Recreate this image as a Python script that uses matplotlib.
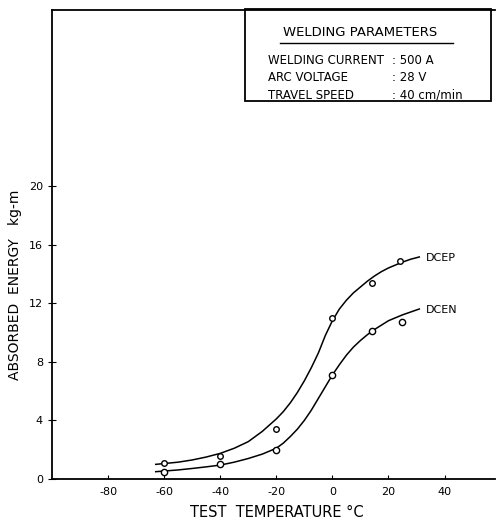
import matplotlib.pyplot as plt
from matplotlib.patches import Rectangle

# measured points
temp_pts = [-60, -40, -20, 0, 14, 24]
dcep_pts = [1.1, 1.6, 3.4, 11.0, 13.4, 14.9]
temp_pts_en = [-60, -40, -20, 0, 14, 25]
dcen_pts = [0.5, 1.0, 2.0, 7.1, 10.1, 10.7]

# drawn curves
curve_t = [-63, -55, -50, -45, -40, -35, -30, -25, -20, -17.5, -15, -12.5, -10, -7.5, -5,
           -2.5, 0, 2.5, 5, 7.5, 10, 12.5, 15, 17.5, 20, 22.5, 25, 28, 31]
dcep_curve = [1.0, 1.15, 1.3, 1.5, 1.75, 2.1, 2.55, 3.25, 4.1, 4.6, 5.2, 5.9, 6.7, 7.6, 8.6,
              9.8, 10.8, 11.6, 12.2, 12.7, 13.1, 13.5, 13.85, 14.15, 14.4, 14.6, 14.8, 15.0, 15.15]
dcen_curve = [0.5, 0.62, 0.72, 0.83, 0.95, 1.15, 1.4, 1.7, 2.1, 2.45, 2.9, 3.4, 4.0, 4.7, 5.5,
              6.3, 7.1, 7.8, 8.45, 9.0, 9.45, 9.85, 10.2, 10.5, 10.8, 11.0, 11.2, 11.4, 11.6]

x_ticks = [-80, -60, -40, -20, 0, 20, 40]
x_labels = ['-80', '-60', '-40', '-20', '0', '20', '40']
y_ticks = [0, 4, 8, 12, 16, 20]

fig = plt.figure(figsize=(4.98, 5.2), dpi=100)
ax = fig.add_axes([0.1044, 0.0788, 0.8896, 0.902])

ax.plot(curve_t, dcep_curve, color='black', lw=1.1)
ax.plot(curve_t, dcen_curve, color='black', lw=1.1)
ax.plot(temp_pts, dcep_pts, 'o', mfc='white', mec='black', ms=4, mew=1.0)
ax.plot(temp_pts_en, dcen_pts, 'o', mfc='white', mec='black', ms=4.5, mew=1.0)

ax.text(33.5, 15.1, 'DCEP', fontsize=8, va='center', ha='left')
ax.text(33.5, 11.5, 'DCEN', fontsize=8, va='center', ha='left')

ax.set_xlim(-100, 58)
ax.set_ylim(0, 32)
ax.set_xticks(x_ticks)
ax.set_xticklabels(x_labels)
ax.set_yticks(y_ticks)
ax.tick_params(axis='x', direction='in', length=3, labelsize=8, pad=6)
ax.tick_params(axis='y', direction='inout', length=6, labelsize=8)
ax.spines['right'].set_visible(False)
for s in ['left', 'bottom', 'top']:
    ax.spines[s].set_linewidth(1.3)

ax.set_xlabel('TEST  TEMPERATURE °C', fontsize=10.5)
ax.xaxis.set_label_coords(0.508, -0.055)
ax.set_ylabel('ABSORBED  ENERGY   kg-m', fontsize=10)
ax.yaxis.set_label_coords(-0.068, 0.414)

# parameters box
box = Rectangle((0.436, 0.806), 0.554, 0.196, transform=ax.transAxes,
                fill=False, lw=1.3, clip_on=False)
ax.add_patch(box)
ax.text(0.696, 0.953, 'WELDING PARAMETERS', transform=ax.transAxes,
        fontsize=9.5, ha='center', va='center')
ax.plot([0.515, 0.905], [0.93, 0.93], transform=ax.transAxes, color='black', lw=1.0)
rows = [('WELDING CURRENT', ': 500 A'), ('ARC VOLTAGE', ': 28 V'),
        ('TRAVEL SPEED', ': 40 cm/min')]
for i, (k, v) in enumerate(rows):
    yy = 0.892 - i * 0.037
    ax.text(0.487, yy, k, transform=ax.transAxes, fontsize=8.5, va='center')
    ax.text(0.768, yy, v, transform=ax.transAxes, fontsize=8.5, va='center')

fig.savefig('out.png', dpi=100)
